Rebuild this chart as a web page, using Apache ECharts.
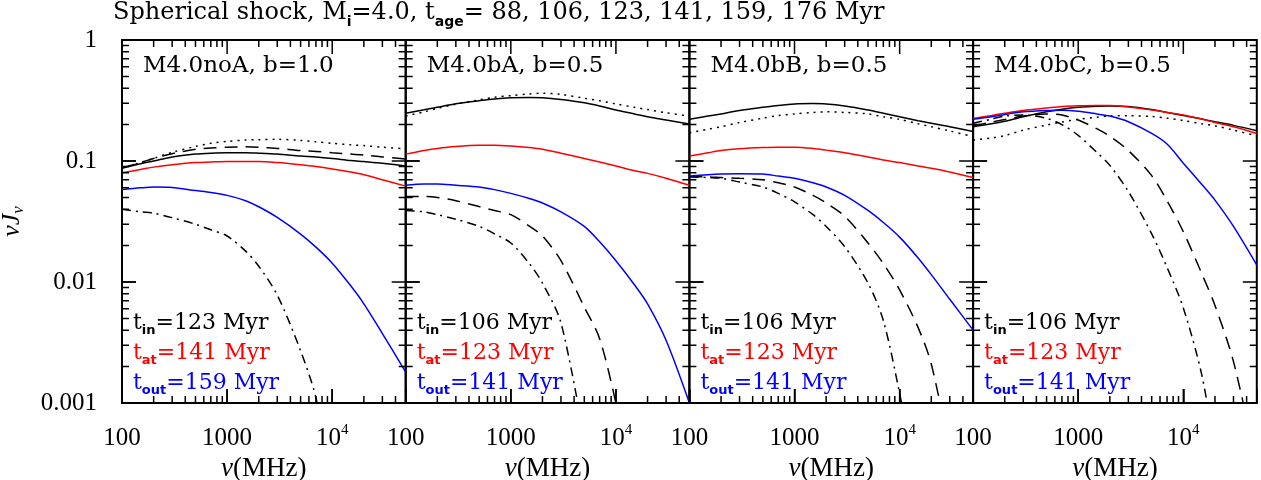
<!DOCTYPE html>
<html>
<head>
<meta charset="utf-8">
<script src="https://cdn.jsdelivr.net/npm/echarts@6/dist/echarts.min.js"></script>
<style>
html,body{margin:0;padding:0;background:#fff;}
#chart{width:1261px;height:480px;}
</style>
</head>
<body>
<div id="chart"></div>
<script>
// frequencies (MHz) shared by every curve
const freq = [100,150,200,300,500,700,1000,1500,2000,3000,5000,7000,10000,15000,20000,30000,50000];

// M4.0noA, b=1.0
const noA_solid   = [0.087,0.095,0.100,0.108,0.114,0.116,0.117,0.117,0.116,0.114,0.110,0.108,0.105,0.101,0.099,0.096,0.091];
const noA_dotted  = [0.088,0.097,0.105,0.118,0.132,0.140,0.145,0.149,0.150,0.151,0.148,0.144,0.140,0.136,0.134,0.130,0.126];
const noA_dashed  = [0.088,0.097,0.105,0.115,0.125,0.128,0.130,0.131,0.130,0.127,0.122,0.120,0.117,0.114,0.112,0.108,0.104];
const noA_dashdot = [0.040,0.038,0.037,0.034,0.030,0.027,0.024,0.018,0.0135,0.0078,0.0027,0.0011,0.0002,null,null,null,null];
const noA_red     = [0.080,0.085,0.089,0.093,0.097,0.098,0.099,0.099,0.099,0.097,0.093,0.090,0.086,0.081,0.077,0.070,0.062];
const noA_blue    = [0.058,0.060,0.061,0.0605,0.057,0.055,0.052,0.047,0.0419,0.0342,0.0249,0.0194,0.0143,0.0093,0.0066,0.00375,0.0018];

// M4.0bA, b=0.5
const bA_solid   = [0.248,0.265,0.278,0.297,0.315,0.326,0.333,0.335,0.333,0.322,0.303,0.285,0.264,0.245,0.232,0.218,0.202];
const bA_dotted  = [0.235,0.255,0.272,0.295,0.320,0.337,0.347,0.358,0.363,0.355,0.330,0.315,0.296,0.278,0.266,0.250,0.235];
const bA_dashed  = [0.051,0.051,0.050,0.047,0.042,0.039,0.036,0.029,0.024,0.015,0.0062,0.0034,0.001,0.0002,null,null,null];
const bA_dashdot = [0.039,0.038,0.036,0.033,0.0288,0.025,0.021,0.0142,0.0098,0.0046,0.0005,null,null,null,null,null,null];
const bA_red     = [0.114,0.122,0.127,0.132,0.135,0.135,0.133,0.129,0.125,0.116,0.105,0.098,0.091,0.083,0.079,0.072,0.063];
const bA_blue    = [0.063,0.0645,0.0645,0.063,0.061,0.058,0.054,0.049,0.045,0.038,0.0288,0.0215,0.0150,0.0095,0.0066,0.0033,0.001];

// M4.0bB, b=0.5
const bB_solid   = [0.221,0.235,0.245,0.262,0.278,0.288,0.296,0.298,0.296,0.285,0.264,0.248,0.232,0.215,0.205,0.192,0.175];
const bB_dotted  = [0.171,0.183,0.192,0.208,0.226,0.237,0.245,0.252,0.255,0.252,0.245,0.232,0.221,0.203,0.192,0.177,0.159];
const bB_dashed  = [0.074,0.074,0.073,0.072,0.070,0.066,0.061,0.052,0.045,0.035,0.021,0.0142,0.0086,0.0042,0.0021,0.0004,null];
const bB_dashdot = [0.074,0.073,0.072,0.067,0.061,0.054,0.046,0.036,0.0288,0.0196,0.0098,0.0048,0.0012,0.0002,null,null,null];
const bB_red     = [0.110,0.117,0.122,0.126,0.129,0.130,0.130,0.127,0.123,0.117,0.108,0.102,0.097,0.091,0.087,0.081,0.073];
const bB_blue    = [0.075,0.077,0.078,0.0785,0.078,0.075,0.072,0.066,0.061,0.052,0.039,0.031,0.0235,0.0158,0.0115,0.0072,0.0040];

// M4.0bC, b=0.5
const bC_solid   = [0.192,0.203,0.213,0.232,0.255,0.268,0.278,0.284,0.285,0.282,0.266,0.252,0.238,0.222,0.211,0.197,0.178];
const bC_dotted  = [0.149,0.155,0.162,0.180,0.198,0.210,0.221,0.230,0.235,0.237,0.233,0.226,0.216,0.203,0.195,0.180,0.161];
const bC_dashed  = [0.195,0.210,0.220,0.235,0.245,0.240,0.218,0.185,0.160,0.122,0.0757,0.047,0.026,0.0117,0.0064,0.0022,0.0003];
const bC_dashdot = [0.205,0.222,0.235,0.240,0.225,0.200,0.163,0.118,0.092,0.056,0.025,0.0132,0.0061,0.0017,0.0004,null,null];
const bC_red     = [0.225,0.238,0.248,0.262,0.274,0.282,0.286,0.288,0.287,0.280,0.264,0.252,0.240,0.222,0.208,0.192,0.169];
const bC_blue    = [0.221,0.232,0.242,0.255,0.262,0.263,0.258,0.245,0.235,0.211,0.169,0.138,0.096,0.064,0.0475,0.0288,0.0138];

const panelNames = ['M4.0noA, b=1.0','M4.0bA, b=0.5','M4.0bB, b=0.5','M4.0bC, b=0.5'];
const tIn  = [123,106,106,106];
const tAt  = [141,123,123,123];
const tOut = [159,141,141,141];

// tick values
const xMajor = [100,1000,10000];
const xMinor = [200,300,400,500,600,700,800,900,2000,3000,4000,5000,6000,7000,8000,9000,20000,30000,40000];
const yMajor = [0.001,0.01,0.1,1];
const yMinor = [0.002,0.003,0.004,0.005,0.006,0.007,0.008,0.009,0.02,0.03,0.04,0.05,0.06,0.07,0.08,0.09,0.2,0.3,0.4,0.5,0.6,0.7,0.8,0.9];

const curves = [
  [noA_solid, noA_dotted, noA_dashed, noA_dashdot, noA_red, noA_blue],
  [bA_solid, bA_dotted, bA_dashed, bA_dashdot, bA_red, bA_blue],
  [bB_solid, bB_dotted, bB_dashed, bB_dashdot, bB_red, bB_blue],
  [bC_solid, bC_dotted, bC_dashed, bC_dashdot, bC_red, bC_blue]
];
const lineStyles = [
  {color:'#000', type:'solid'},
  {color:'#000', type:[2,5]},
  {color:'#000', type:[13,8]},
  {color:'#000', type:[9,5,2,5]},
  {color:'#ff0000', type:'solid'},
  {color:'#0000ff', type:'solid'}
];
const drawOrder = [1,2,3,0,4,5];

const chart = echarts.init(document.getElementById('chart'));

const pLeft = [122, 405.7, 689.4, 973.1];
const pWidth = 283.7;
const pTop = 40, pHeight = 363;
const xMin = 100, xMax = 50000, yMin = 0.001, yMax = 1;
const MAJ = 14, MIN = 7;

function fmtX(v){
  const e = Math.log10(v);
  if (Math.abs(e - Math.round(e)) > 1e-6) return '';
  const n = Math.round(e);
  if (n < 4) return '{b|' + Math.round(v) + '}';
  return '{b|10}{sup|' + n + '}';
}
function fmtY(v){
  const e = Math.log10(v);
  if (Math.abs(e - Math.round(e)) > 1e-6) return '';
  return String(Number(v.toPrecision(1)));
}

// tick marks as short segments on the log axes; length given in pixels
// and turned into a ratio along each axis
const xDec = Math.log10(xMax / xMin), yDec = Math.log10(yMax / yMin);
function xRatio(len){ return Math.pow(10, len * xDec / pWidth); }
function yRatio(len){ return Math.pow(10, len * yDec / pHeight); }
function tickSegments(){
  const d = [];
  const gap = [null, null];
  [[xMajor, MAJ], [xMinor, MIN]].forEach(([vals, len]) => {
    const r = yRatio(len);
    vals.forEach(v => {
      d.push([v, yMin], [v, yMin * r], gap);
      d.push([v, yMax], [v, yMax / r], gap);
    });
  });
  [[yMajor, MAJ], [yMinor, MIN]].forEach(([vals, len]) => {
    const r = xRatio(len);
    vals.forEach(v => {
      d.push([xMin, v], [xMin * r, v], gap);
      d.push([xMax, v], [xMax / r, v], gap);
    });
  });
  return d;
}
const ticks = tickSegments();

const grid = [], xAxis = [], yAxis = [], series = [], graphic = [];

for (let i = 0; i < 4; i++) {
  grid.push({left:pLeft[i], top:pTop, width:pWidth, height:pHeight,
    outerBoundsMode:'none', containLabel:false,
    show:true, borderColor:'#000', borderWidth:2, backgroundColor:'transparent'});
  xAxis.push({
    type:'log', logBase:10, min:xMin, max:xMax, gridIndex:i, position:'bottom',
    axisLine:{show:false}, splitLine:{show:false},
    axisTick:{show:true, inside:true, length:MAJ, lineStyle:{color:'#000', width:1.5}},
    axisLabel:{
      margin:20, color:'#000', fontFamily:'Liberation Serif', fontSize:25,
      formatter:fmtX, hideOverlap:false,
      rich:{
        b:{fontFamily:'Liberation Serif', fontSize:25, lineHeight:30, color:'#000'},
        sup:{fontFamily:'Liberation Serif', fontSize:15, verticalAlign:'top', color:'#000'}
      }
    },
    name:'{i|ν}(MHz)', nameLocation:'middle', nameGap:42,
    nameTextStyle:{fontFamily:'Liberation Serif', fontSize:27, color:'#000',
      rich:{i:{fontFamily:'Liberation Serif', fontStyle:'italic', fontSize:27, color:'#000'}}}
  });
  yAxis.push({
    type:'log', logBase:10, min:yMin, max:yMax, gridIndex:i, position:'left',
    axisLine:{show:false}, splitLine:{show:false},
    axisTick:{show:true, inside:true, length:MAJ, lineStyle:{color:'#000', width:1.5}},
    axisLabel:{show:i === 0, margin:25, color:'#000', fontFamily:'Liberation Serif', fontSize:25, formatter:fmtY},
    name:i === 0 ? '{i|νJ}{s|ν}' : '', nameLocation:'middle', nameRotate:90, nameGap:95,
    nameTextStyle:{fontFamily:'Liberation Serif', fontSize:26, color:'#000',
      rich:{
        i:{fontFamily:'Liberation Serif', fontStyle:'italic', fontSize:26, lineHeight:30, color:'#000'},
        s:{fontFamily:'Liberation Serif', fontStyle:'italic', fontSize:17, verticalAlign:'bottom', color:'#000'}
      }}
  });

  const cs = curves[i];
  drawOrder.forEach(k => {
    series.push({
      type:'line', xAxisIndex:i, yAxisIndex:i, symbol:'none', smooth:0.3,
      clip:true, silent:true,
      lineStyle:{color:lineStyles[k].color, type:lineStyles[k].type, width:1.5},
      data:freq.map((f, j) => [f, cs[k][j]])
    });
  });
  series.push({
    type:'line', xAxisIndex:i, yAxisIndex:i, symbol:'none', smooth:false,
    connectNulls:false, clip:false, silent:true, z:4,
    lineStyle:{color:'#000', type:'solid', width:1.5},
    data:ticks
  });

  const subStyle = {fontFamily:'DejaVu Sans', fontWeight:'bold', fontSize:13, verticalAlign:'bottom'};
  graphic.push({
    type:'text', left:pLeft[i] + 21, top:55, z:10,
    style:{text:panelNames[i], font:'23px "DejaVu Serif"', fill:'#000'}
  });
  const leg = [['in', tIn[i], '#000'], ['at', tAt[i], '#ff0000'], ['out', tOut[i], '#0000ff']];
  leg.forEach((L, j) => {
    graphic.push({
      type:'text', left:pLeft[i] + 11, top:312 + j * 30, z:10,
      style:{
        text:'{m|t}{s|' + L[0] + '}{m|=' + L[1] + ' Myr}',
        fill:L[2],
        rich:{
          m:{fontFamily:'DejaVu Serif', fontSize:22, lineHeight:28, fill:L[2]},
          s:Object.assign({fill:L[2]}, subStyle)
        }
      }
    });
  });
}

graphic.push({
  type:'text', left:113, top:1, z:10,
  style:{
    text:'{m|Spherical shock, M}{s|i}{m|=4.0, t}{s|age}{m|= 88, 106, 123, 141, 159, 176 Myr}',
    fill:'#000',
    rich:{
      m:{fontFamily:'DejaVu Serif', fontSize:24, lineHeight:32, fill:'#000'},
      s:{fontFamily:'DejaVu Sans', fontWeight:'bold', fontSize:14, verticalAlign:'bottom', fill:'#000'}
    }
  }
});

chart.setOption({
  backgroundColor:'#fff',
  animation:false,
  grid:grid, xAxis:xAxis, yAxis:yAxis, series:series, graphic:graphic
});
</script>
</body>
</html>
